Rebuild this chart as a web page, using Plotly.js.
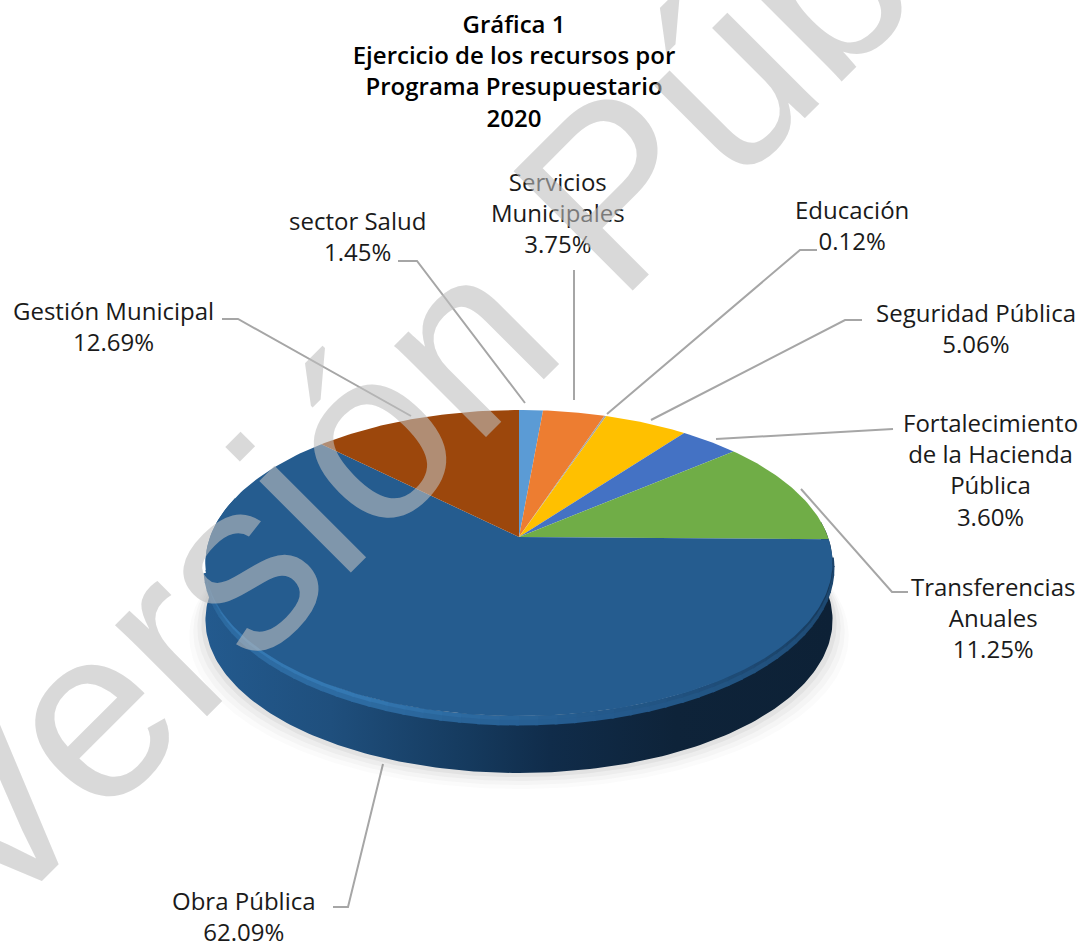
<!DOCTYPE html>
<html><head><meta charset="utf-8">
<script src="https://cdn.plot.ly/plotly-3.0.1.min.js"></script>
<style>html,body{margin:0;padding:0;background:#fff;overflow:hidden}#c{width:1087px;height:944px}</style>
</head><body><div id="c"></div>
<script>
const categories = ["sector Salud","Servicios Municipales","Educación","Seguridad Pública","Fortalecimiento de la Hacienda Pública","Transferencias Anuales","Obra Pública","Gestión Municipal"];
const values = [1.45,3.75,0.12,5.06,3.60,11.25,62.09,12.69];
const colors = ["#5b9bd5","#ed7d31","#a5a5a5","#ffc000","#4472c4","#70ad47","#255c8f","#9c470c"];
const labelLines = [["sector Salud"],["Servicios","Municipales"],["Educación"],["Seguridad Pública"],["Fortalecimiento","de la Hacienda","Pública"],["Transferencias","Anuales"],["Obra Pública"],["Gestión Municipal"]];
const chartTitle = "Gráfica 1<br>Ejercicio de los recursos por<br>Programa Presupuestario<br>2020";
const watermark = "Versión Pública";

// projection of the pie disc (tilted with perspective)
const CX=519, CY=537, RX=309, B=-0.17, A=148.6, DEPTH=57;
function pt(deg,d,s){
  const r=deg*Math.PI/180, u=Math.sin(r), v=-Math.cos(r), w=1+B*v, k=s||1;
  return [CX+k*RX*u/w, CY+A*v/w+(d||0)];
}
function arc(a,b,d,s){
  const xs=[],ys=[],n=Math.max(2,Math.ceil(Math.abs(b-a)));
  for(let i=0;i<=n;i++){const p=pt(a+(b-a)*i/n,d,s);xs.push(p[0]);ys.push(p[1]);}
  return [xs,ys];
}
function mix(c1,c2,t){return "rgb("+c1.map((v,i)=>Math.round(v+(c2[i]-v)*t)).join(",")+")";}
const total=values.reduce((s,v)=>s+v,0);
const traces=[];
// soft shadow under the disc
[[16,0.025],[12,0.035],[8,0.05],[4,0.07]].forEach(([g,o])=>{
  const [x,y]=arc(80,280,DEPTH+g,1+g/311);
  traces.push({type:"scatter",mode:"lines",x:x,y:y,fill:"toself",fillcolor:"rgba(90,90,90,"+o+")",line:{width:0},hoverinfo:"skip",showlegend:false});
});
// side wall
(function(){
  const [x0,y0]=arc(84,286,0),[x1,y1]=arc(286,84,DEPTH);
  traces.push({type:"scatter",mode:"lines",x:x0.concat(x1),y:y0.concat(y1),fill:"toself",line:{width:0},hoverinfo:"skip",showlegend:false,
    fillgradient:{type:"horizontal",colorscale:[[0,"#235a8e"],[0.2,"#1f4f7d"],[0.42,"#153a5e"],[0.55,"#102c4a"],[0.75,"#0e2339"],[1,"#0d2136"]]}});
})();
// bevel band on the wall's upper edge: fades from dark (right) through the slice colour to light (left)
const OBRA=[37,92,143], LIGHT=[52,120,178], DARK=[14,34,56];
function bevelColor(a,s){
  if(a<170) return mix(OBRA,DARK,(170-a)/74*0.75*s);
  if(a<205) return mix(OBRA,LIGHT,(a-170)/35*s);
  if(a<238) return mix(OBRA,LIGHT,s);
  return mix(OBRA,LIGHT,Math.max(0,(258-a)/20)*s);
}
[[5,9,0.992,0.55],[2,4,0.994,1]].forEach(([d,w,sc,s])=>{
  for(let a=96;a<258;a+=3){
    const [x,y]=arc(a,a+3.5,d,sc);
    traces.push({type:"scatter",mode:"lines",x:x,y:y,line:{color:bevelColor(a,s),width:w},hoverinfo:"skip",showlegend:false});
  }
});
// slices
let acc=0;
categories.forEach((c,i)=>{
  const a=acc/total*360, b=(acc+values[i])/total*360; acc+=values[i];
  const [x,y]=arc(a,b,0);
  traces.push({type:"scatter",mode:"lines",name:c,x:[CX].concat(x,[CX]),y:[CY].concat(y,[CY]),fill:"toself",fillcolor:colors[i],line:{width:0,color:colors[i]},
    hovertemplate:c+": "+values[i].toFixed(2)+"%<extra></extra>",showlegend:false});
});

const LF={family:"'Open Sans', 'Noto Sans', sans-serif",size:24,color:"#1a1a1a",weight:500};
const labelAt=[[357,236],[558,212],[852,225],[976,328],[990,469],[993,617],[244,916],[113,326]];
const annotations=categories.map((c,i)=>({
  x:labelAt[i][0],y:labelAt[i][1],xref:"x",yref:"y",showarrow:false,align:"center",xanchor:"center",yanchor:"middle",
  text:labelLines[i].concat([values[i].toFixed(2)+"%"]).join("<br>"),font:LF
}));
annotations.push({x:530,y:273,xref:"x",yref:"y",showarrow:false,textangle:-45,text:watermark,
  font:{family:"'Liberation Sans', Arial, sans-serif",size:245,color:"rgba(190,190,190,0.59)"}});

const leaders=[
 [[398,261],[417,261],[525,403]],
 [[574,270],[574,400]],
 [[817,250],[800,250],[607,414]],
 [[862,320],[845,320],[651,420]],
 [[893,429],[716,439]],
 [[908,592],[892,592],[801,489]],
 [[333,907],[348,907],[383,764]],
 [[222,319],[238,319],[411,416]]
];
const shapes=leaders.map(p=>({type:"path",xref:"x",yref:"y",layer:"below",
  path:"M"+p.map(q=>q.join(",")).join("L"),line:{color:"#a6a6a6",width:2}}));

Plotly.newPlot("c",traces,{
  width:1087,height:944,margin:{l:0,r:0,t:0,b:0},paper_bgcolor:"#fff",plot_bgcolor:"#fff",showlegend:false,
  title:{text:chartTitle,x:514/1087,xanchor:"center",xref:"paper",y:0.965,yanchor:"top",font:{family:"'Open Sans', 'Noto Sans', sans-serif",size:24,color:"#000",weight:600}},
  xaxis:{range:[0,1087],visible:false,fixedrange:true},
  yaxis:{range:[944,0],visible:false,fixedrange:true},
  annotations:annotations,shapes:shapes
},{displayModeBar:false});
</script></body></html>
